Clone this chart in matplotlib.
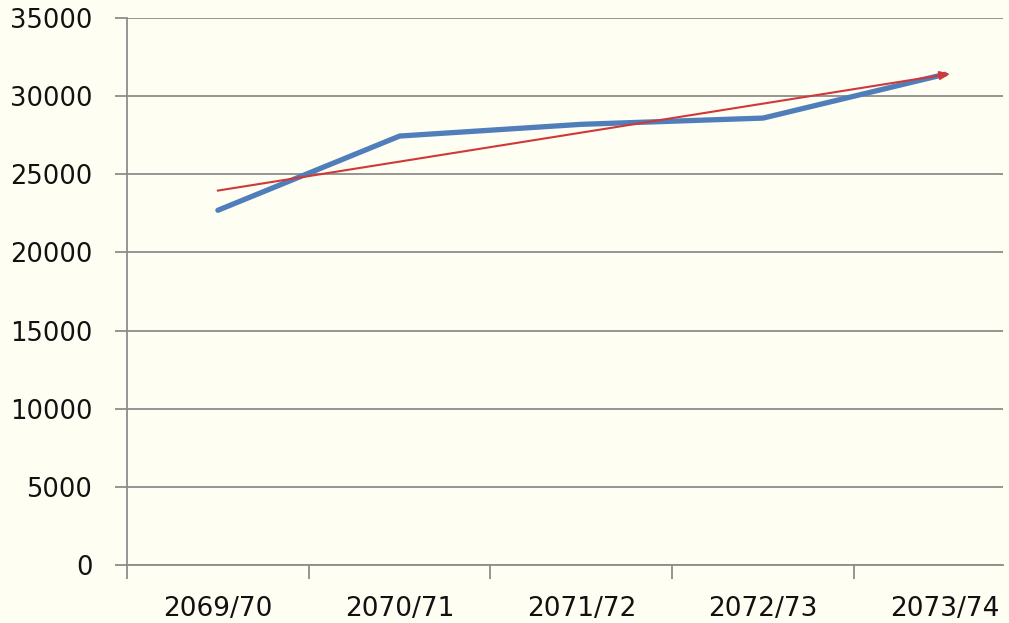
import numpy as np
import matplotlib
matplotlib.use("Agg")
import matplotlib.pyplot as plt
from matplotlib.ticker import FixedLocator, NullFormatter

categories = ["2069/70", "2070/71", "2071/72", "2072/73", "2073/74"]
values = [22700, 27450, 28200, 28600, 31400]
y_ticks = [0, 5000, 10000, 15000, 20000, 25000, 30000, 35000]

bg = "#FEFEF2"
blue = "#4F7EBA"
red = "#D0393A"
grid_c = "#8C8C8C"

fig = plt.figure(figsize=(10.09, 6.23), dpi=100, facecolor=bg)
ax = fig.add_axes([0.1259, 0.0931, 0.994 - 0.1259, 0.971 - 0.0931])
ax.set_facecolor(bg)

x = np.arange(len(categories))
ax.plot(x, values, color=blue, lw=3.8, solid_capstyle="round", solid_joinstyle="miter", zorder=3)

# linear trendline
slope, intercept = np.polyfit(x, values, 1)
trend = slope * x + intercept
ax.plot(x[[0, -1]], trend[[0, -1]], color=red, lw=1.5, zorder=4)
ax.annotate("", xy=(x[-1] + 0.03, trend[-1] + slope * 0.03), xytext=(x[-1] - 0.05, trend[-1] - slope * 0.05),
            arrowprops=dict(arrowstyle="-|>,head_length=0.6,head_width=0.25", color=red, lw=1.5,
                            shrinkA=0, shrinkB=0), zorder=5)

ax.set_xlim(-0.5, 4.32)
ax.set_ylim(0, 35000)
ax.set_yticks(y_ticks)
ax.set_yticklabels([str(v) for v in y_ticks], fontsize=18.5, family="DejaVu Sans", color="#111111")
ax.yaxis.grid(True, color=grid_c, lw=1.3)
ax.set_axisbelow(True)

ax.set_xticks(x)
ax.set_xticklabels(categories, fontsize=19, family=["Liberation Sans Narrow", "DejaVu Sans"], color="#111111")
ax.xaxis.set_minor_locator(FixedLocator(np.arange(-0.5, 4.5, 1.0)))
ax.tick_params(axis="x", which="major", length=0, pad=22)
ax.tick_params(axis="x", which="minor", length=10, width=1.3, color=grid_c)
ax.tick_params(axis="y", length=9, width=1.3, color=grid_c, pad=16)

for s in ["top", "right"]:
    ax.spines[s].set_visible(False)
for s in ["left", "bottom"]:
    ax.spines[s].set_color(grid_c)
    ax.spines[s].set_linewidth(1.3)

fig.savefig("out.png", dpi=100, facecolor=bg)
